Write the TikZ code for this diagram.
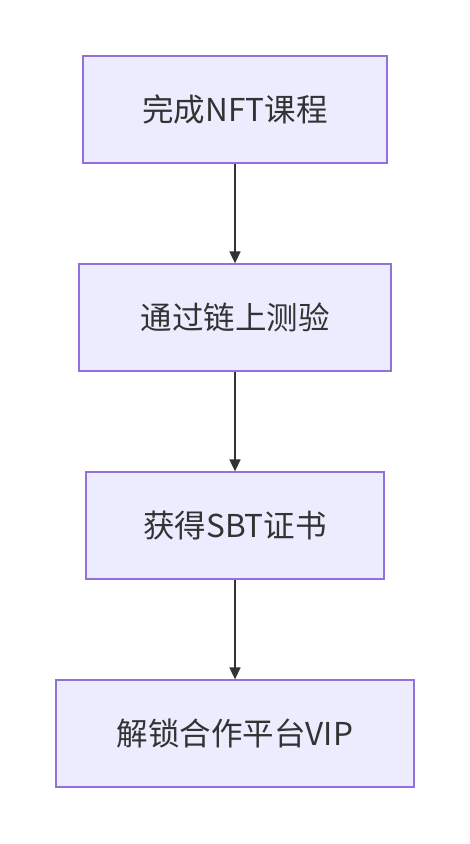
\documentclass[tikz,border=0pt]{standalone}
\usepackage{fontspec}
\setmainfont{Noto Sans CJK SC}
\usetikzlibrary{arrows.meta}
\definecolor{boxfill}{HTML}{ECECFF}
\definecolor{boxline}{HTML}{9370DB}
\definecolor{ink}{HTML}{333333}
\begin{document}
\begin{tikzpicture}[x=1pt,y=1pt,
  stepbox/.style={draw=boxline,fill=boxfill,line width=1.3pt,inner sep=0pt,
    text=ink,font=\fontsize{31.5}{36}\selectfont},
  link/.style={draw=ink,line width=1.6pt,-{Triangle[length=12pt,width=11pt]}}]
\useasboundingbox (0,0) rectangle (470,-844);
\fill[white] (0,0) rectangle (470,-844);
\node[stepbox,minimum width=304pt,minimum height=107pt] (a) at (235,-109.5) {完成NFT课程};
\node[stepbox,minimum width=312pt,minimum height=107pt] (b) at (235,-317.5) {通过链上测验};
\node[stepbox,minimum width=298pt,minimum height=107pt] (c) at (235,-525.5) {获得SBT证书};
\node[stepbox,minimum width=358pt,minimum height=107pt] (d) at (235,-733.5) {解锁合作平台VIP};
\draw[link] (a) -- (b);
\draw[link] (b) -- (c);
\draw[link] (c) -- (d);
\end{tikzpicture}
\end{document}
